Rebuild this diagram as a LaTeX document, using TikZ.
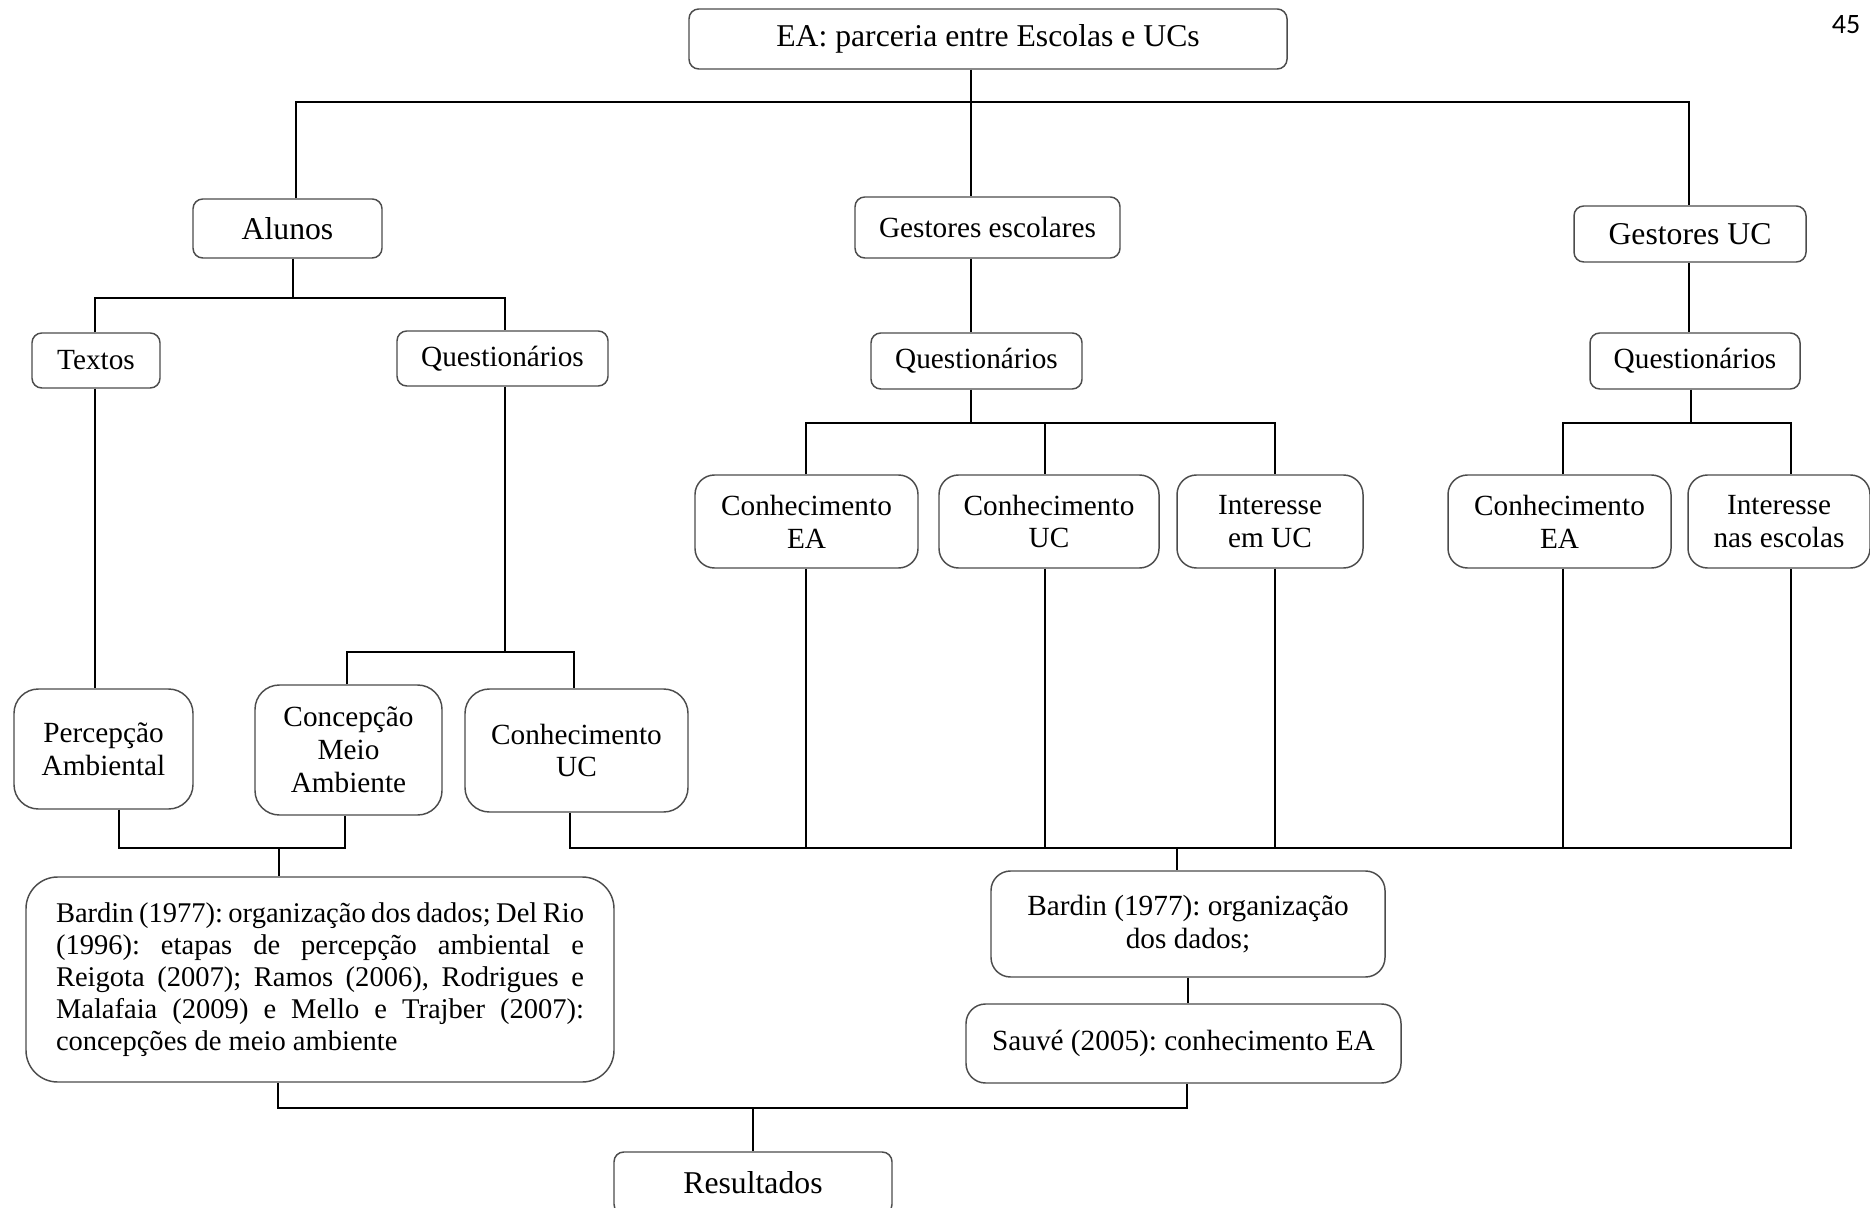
\documentclass[tikz,border=0pt]{standalone}
\usepackage{fontspec}
\setmainfont{Liberation Serif}
\newfontfamily\pagefont{Carlito}
\usetikzlibrary{positioning}
\newdimen\pxu
\pxu=0.41pt
\frenchspacing

\begin{document}
\begin{tikzpicture}[x=1\pxu, y=-1\pxu,
        box/.style={draw=black!70, line width=0.6pt, rounded corners=4pt, inner sep=0pt,
            align=center, font=\fontsize{12}{13.5}\selectfont},
        bigbox/.style={box, font=\fontsize{13}{14.5}\selectfont},
        tallbox/.style={box, rounded corners=8pt},
        link/.style={line width=1pt}]
        \useasboundingbox (0,0) rectangle (1870,1208);

        % Nodes
        \node (ea) [bigbox, minimum width=598\pxu, minimum height=60\pxu] at (988,39) {EA: parceria entre Escolas e UCs};
        \node (pg) [font=\pagefont\fontsize{11.5}{13}\selectfont] at (1846,25) {45};

        \node (alunos) [bigbox, minimum width=189\pxu, minimum height=59\pxu] at (287.5,228.5) {Alunos};
        \node (gestesc) [box, minimum width=265\pxu, minimum height=61\pxu] at (987.5,227.5) {Gestores escolares};
        \node (gestuc) [bigbox, minimum width=232\pxu, minimum height=56\pxu] at (1690,234) {Gestores UC};

        \node (textos) [box, minimum width=128\pxu, minimum height=55\pxu] at (96,360.5) {Textos};
        \node (questA) [box, minimum width=211\pxu, minimum height=55\pxu] at (502.5,358.5) {Questionários};
        \node (questB) [box, minimum width=211\pxu, minimum height=56\pxu] at (976.5,361) {Questionários};
        \node (questC) [box, minimum width=210\pxu, minimum height=56\pxu] at (1695,361) {Questionários};

        \node (conhEAa) [tallbox, minimum width=223\pxu, minimum height=93\pxu] at (806.5,521.5) {Conhecimento\\EA};
        \node (conhUCb) [tallbox, minimum width=220\pxu, minimum height=93\pxu] at (1049,521.5) {Conhecimento\\UC};
        \node (intUC) [tallbox, minimum width=186\pxu, minimum height=93\pxu] at (1270,521.5) {Interesse\\em UC};
        \node (conhEAb) [tallbox, minimum width=223\pxu, minimum height=93\pxu] at (1559.5,521.5) {Conhecimento\\EA};
        \node (intEsc) [tallbox, minimum width=182\pxu, minimum height=93\pxu] at (1779,521.5) {Interesse\\nas escolas};

        \node (percep) [tallbox, rounded corners=10pt, minimum width=179\pxu, minimum height=120\pxu] at (103.5,749) {Percepção\\Ambiental};
        \node (concep) [tallbox, rounded corners=10pt, minimum width=187\pxu, minimum height=130\pxu] at (348.5,750) {Concepção\\Meio\\Ambiente};
        \node (conhUCa) [tallbox, rounded corners=10pt, minimum width=223\pxu, minimum height=123\pxu] at (576.5,750.5) {Conhecimento\\UC};

        \node (bardinA) [tallbox, rounded corners=13pt, text width=528\pxu, inner xsep=30\pxu, minimum height=205\pxu,
            align=justify, font=\fontsize{11.7}{13.1}\selectfont] at (320,979.5)
            {\hyphenpenalty=10000 \spaceskip=.25em plus .3em minus .12em
            Bardin (1977): organização dos dados; Del Rio\linebreak (1996): etapas de percepção ambiental e\linebreak Reigota (2007); Ramos (2006), Rodrigues e\linebreak Malafaia (2009) e Mello e Trajber (2007):\linebreak concepções de meio ambiente};
        \node (bardinB) [tallbox, minimum width=394\pxu, minimum height=106\pxu] at (1188,924) {Bardin (1977): organização\\dos dados;};
        \node (sauve) [tallbox, minimum width=435\pxu, minimum height=79\pxu] at (1183.5,1043.5) {Sauvé (2005): conhecimento EA};
        \node (result) [bigbox, minimum width=278\pxu, minimum height=62\pxu] at (753,1183) {Resultados};

        % Junctions
        \coordinate (t0) at (971,102);
        \coordinate (tL) at (296,102);
        \coordinate (tR) at (1689,102);
        \coordinate (a0) at (293,298);
        \coordinate (aL) at (95,298);
        \coordinate (aR) at (505,298);
        \coordinate (qL) at (347,652);
        \coordinate (qR) at (574,652);
        \coordinate (m0) at (971,423);
        \coordinate (mL) at (806,423);
        \coordinate (mM) at (1045,423);
        \coordinate (mR) at (1275,423);
        \coordinate (r0) at (1691,423);
        \coordinate (rL) at (1563,423);
        \coordinate (rR) at (1791,423);
        \coordinate (bL) at (119,848);
        \coordinate (bM) at (345,848);
        \coordinate (bJ) at (279,848);
        \coordinate (cL) at (570,848);
        \coordinate (cR) at (1791,848);
        \coordinate (cJ) at (1177,848);
        \coordinate (sv) at (1188,990);
        \coordinate (dL) at (278,1108);
        \coordinate (dR) at (1187,1108);
        \coordinate (dJ) at (753,1108);

        % Lines
        \draw[link] (ea.south -| t0) -- (t0 |- gestesc.north);
        \draw[link] (tL |- alunos.north) -- (tL) -- (tR) -- (tR |- gestuc.north);

        \draw[link] (a0 |- alunos.south) -- (a0);
        \draw[link] (aL |- textos.north) -- (aL) -- (aR) -- (aR |- questA.north);
        \draw[link] (aL |- textos.south) -- (aL |- percep.north);
        \draw[link] (aR |- questA.south) -- (aR |- qL);
        \draw[link] (qL |- concep.north) -- (qL) -- (qR) -- (qR |- conhUCa.north);

        \draw[link] (gestesc.south -| t0) -- (t0 |- questB.north);
        \draw[link] (m0 |- questB.south) -- (m0);
        \draw[link] (mL |- conhEAa.north) -- (mL) -- (mR) -- (mR |- intUC.north);
        \draw[link] (mM) -- (mM |- conhUCb.north);

        \draw[link] (gestuc.south -| tR) -- (tR |- questC.north);
        \draw[link] (r0 |- questC.south) -- (r0);
        \draw[link] (rL |- conhEAb.north) -- (rL) -- (rR) -- (rR |- intEsc.north);

        \draw[link] (bL |- percep.south) -- (bL) -- (bM) -- (bM |- concep.south);
        \draw[link] (bJ) -- (bJ |- bardinA.north);

        \draw[link] (cL |- conhUCa.south) -- (cL) -- (cR) -- (cR |- intEsc.south);
        \foreach \c/\n in {mL/conhEAa, mM/conhUCb, mR/intUC, rL/conhEAb}
            \draw[link] (\c |- \n.south) -- (\c |- cL);
        \draw[link] (cJ) -- (cJ |- bardinB.north);
        \draw[link] (sv |- bardinB.south) -- (sv |- sauve.north);

        \draw[link] (dL |- bardinA.south) -- (dL) -- (dR) -- (dR |- sauve.south);
        \draw[link] (dJ) -- (dJ |- result.north);

    \end{tikzpicture}
\end{document}
